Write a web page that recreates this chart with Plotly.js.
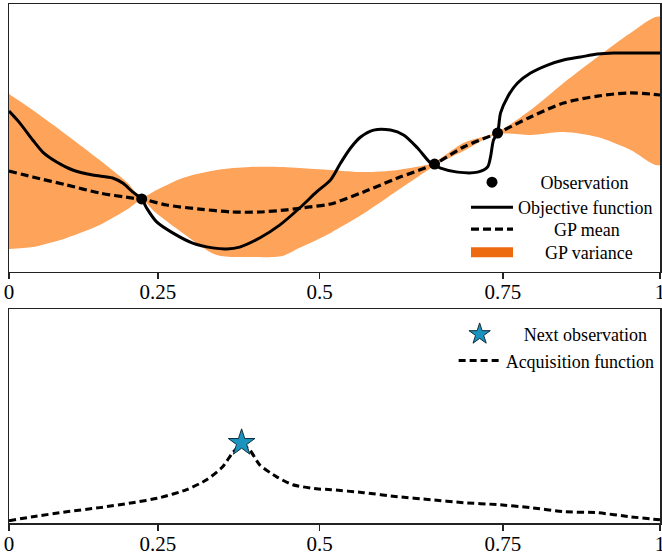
<!DOCTYPE html>
<html><head><meta charset="utf-8">
<script src="https://cdn.plot.ly/plotly-3.0.1.min.js"></script>
<style>html,body{margin:0;padding:0;background:#fff}#chart{width:662px;height:559px}</style>
</head><body><div id="chart"></div>
<script>
// Tick labels (positions as drawn on the reference axis, which is not evenly spaced)
const xTickPositions = [0, 0.2288, 0.4771, 0.7586, 1];
const xTickLabels = ['0', '0.25', '0.5', '0.75', '1'];

// Objective function
const objX = [0,0.0164,0.0364,0.0518,0.0732,0.0978,0.1285,0.1592,0.1746,0.1899,0.2038,0.2114,0.2268,0.2514,0.2821,0.3128,0.3343,0.3543,0.3850,0.4157,0.4464,0.4725,0.4940,0.5094,0.5247,0.5401,0.5601,0.5861,0.6061,0.6276,0.6476,0.6629,0.6890,0.7198,0.7351,0.7397,0.7443,0.7505,0.7551,0.7659,0.7812,0.8012,0.8273,0.8518,0.8779,0.9040,0.9286,0.9548,1.0];
const objY = [6.00,5.56,4.92,4.47,4.10,3.80,3.61,3.50,3.31,2.98,2.72,2.38,1.86,1.45,1.07,0.89,0.85,0.92,1.26,1.74,2.38,2.98,3.43,4.06,4.62,5.03,5.29,5.29,5.11,4.62,4.06,3.87,3.72,3.72,3.91,4.29,4.92,5.18,5.93,6.53,7.05,7.42,7.72,7.91,8.02,8.13,8.17,8.17,8.17];

// GP mean
const meanX = [0,0.0364,0.0886,0.1393,0.1899,0.2038,0.2422,0.2928,0.3435,0.3850,0.4264,0.4618,0.4940,0.5447,0.5969,0.6537,0.6982,0.7505,0.8012,0.8518,0.9040,0.9548,1.0];
const meanY = [3.76,3.54,3.24,2.94,2.75,2.72,2.49,2.34,2.23,2.23,2.31,2.42,2.53,2.98,3.50,4.02,4.66,5.18,5.78,6.30,6.56,6.68,6.60];

// GP variance band
const bandX = [0,0.0364,0.0886,0.1393,0.1807,0.2038,0.2268,0.2667,0.3189,0.3696,0.4203,0.4464,0.4940,0.5447,0.5969,0.6476,0.6537,0.6982,0.7505,0.8012,0.8518,0.9040,0.9548,1.0];
const bandUpper = [6.64,6.04,5.11,4.17,3.35,2.79,3.05,3.50,3.80,3.91,3.91,3.87,3.80,3.72,3.80,4.02,4.08,4.81,5.22,6.04,7.05,8.02,8.92,9.52];
const bandLower = [0.85,0.92,1.26,1.74,2.31,2.66,2.17,1.45,0.62,0.55,0.59,0.89,1.45,2.17,3.03,3.86,3.97,4.51,5.14,5.11,5.22,5.03,4.55,3.99];

// Observations
const obsX = [0.2038, 0.6537, 0.7505];
const obsY = [2.72, 4.02, 5.18];

// Acquisition function
const acqX = [0,0.0364,0.0886,0.1393,0.1899,0.2314,0.2729,0.3036,0.3282,0.3435,0.3543,0.3573,0.3696,0.3850,0.4111,0.4357,0.4725,0.4940,0.5447,0.5969,0.6476,0.6982,0.7505,0.8012,0.8518,0.9040,0.9548,1.0];
const acqY = [0.11,0.29,0.53,0.72,0.95,1.18,1.56,2.02,2.63,3.29,3.61,3.66,3.43,2.72,2.16,1.79,1.60,1.56,1.42,1.23,1.09,0.95,0.86,0.72,0.53,0.48,0.29,0.15];

// Next observation
const nextX = [0.3573];
const nextY = [3.75];

const NB = '\u00A0';
const pad = n => NB.repeat(n);

const traces = [
  {x: bandX.concat(bandX.slice().reverse()), y: bandUpper.concat(bandLower.slice().reverse()),
   type:'scatter', mode:'lines', fill:'toself', fillcolor:'#FDA35A', line:{width:0, shape:'spline', smoothing:0.8},
   showlegend:false, hoverinfo:'skip', xaxis:'x', yaxis:'y'},
  {x: meanX, y: meanY, type:'scatter', mode:'lines', name: pad(8)+'GP mean',
   line:{color:'#000', width:3.2, dash:'8px,4px', shape:'spline', smoothing:0.8}, legend:'legend3', xaxis:'x', yaxis:'y'},
  {x: objX, y: objY, type:'scatter', mode:'lines', name:'Objective function',
   line:{color:'#000', width:3, shape:'spline', smoothing:0.8}, legend:'legend4', xaxis:'x', yaxis:'y'},
  {x: obsX, y: obsY, type:'scatter', mode:'markers', name: pad(5)+'Observation',
   marker:{color:'#000', size:11}, legend:'legend', xaxis:'x', yaxis:'y'},
  {x:[null], y:[null], type:'scatter', mode:'lines', name: pad(6)+'GP variance',
   line:{color:'#EE6A10', width:15}, legend:'legend5', xaxis:'x', yaxis:'y'},
  {x: acqX, y: acqY, type:'scatter', mode:'lines', name:'Acquisition function',
   line:{color:'#000', width:3, dash:'7px,4px', shape:'spline', smoothing:0.6}, legend:'legend2', legendrank:2, xaxis:'x2', yaxis:'y2'},
  {x: nextX, y: nextY, type:'scatter', mode:'markers', name: pad(4)+'Next observation',
   marker:{symbol:'star', size:20, color:'#1A93BE', line:{color:'#12303c', width:1}}, legend:'legend2', legendrank:1, xaxis:'x2', yaxis:'y2'}
];

const ax = {showline:true, mirror:true, linecolor:'#222', linewidth:1.5, showgrid:false, zeroline:false};
const xax = Object.assign({}, ax, {range:[0,1], tickvals:xTickPositions, ticktext:xTickLabels, ticks:'outside', ticklen:6, tickwidth:1.5, tickcolor:'#222', tickfont:{size:21, color:'#000'}, ticklabeloverflow:'allow', ticklabelstandoff:-5});
const yax = Object.assign({}, ax, {range:[0,10], showticklabels:false, ticks:''});

const leg = (x, y) => ({x:x, y:y, xanchor:'left', yanchor:'top', bgcolor:'rgba(0,0,0,0)', font:{size:18}, itemwidth:42, traceorder:'normal'});

const layout = {
  width:662, height:559,
  margin:{l:9, r:2, t:4, b:36},
  paper_bgcolor:'#fff', plot_bgcolor:'#fff',
  font:{family:'"Liberation Serif","Times New Roman",Times,serif', size:18, color:'#000'},
  showlegend:true,
  xaxis: Object.assign({}, xax, {anchor:'y', domain:[0,1]}),
  yaxis: Object.assign({}, yax, {anchor:'x', domain:[0.4842,1]}),
  xaxis2: Object.assign({}, xax, {anchor:'y2', domain:[0,1]}),
  yaxis2: Object.assign({}, yax, {anchor:'x2', domain:[0,0.4118]}),
  legend: leg(0.702, 0.6917),
  legend4: leg(0.702, 0.6435),
  legend3: leg(0.702, 0.6012),
  legend5: leg(0.702, 0.5568),
  legend2: leg(0.683, 0.399)
};

Plotly.newPlot('chart', traces, layout, {displayModeBar:false, staticPlot:true});
</script></body></html>
